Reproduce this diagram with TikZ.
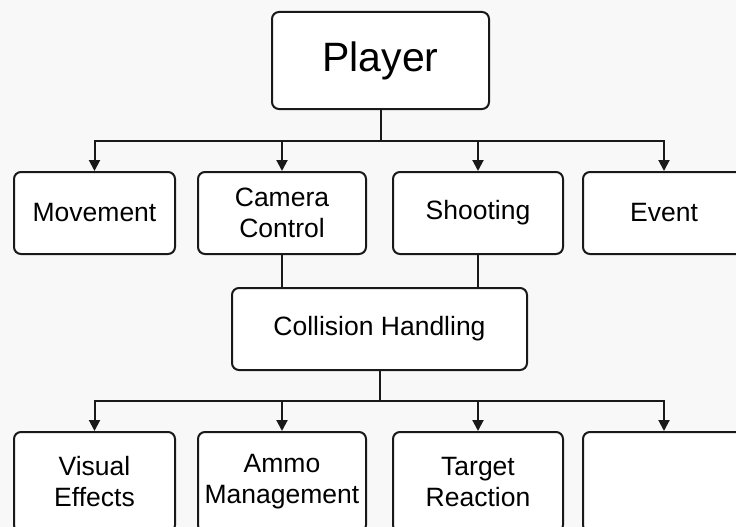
\documentclass[tikz,border=0pt]{standalone}
\usepackage{fontspec}
\setmainfont{Liberation Sans}
\usetikzlibrary{arrows.meta}

\definecolor{bgcol}{RGB}{248,248,248}
\definecolor{linecol}{RGB}{25,25,25}

\tikzset{
  box/.style={draw=linecol, line width=2pt, rounded corners=7pt, fill=white,
    align=center, inner sep=0pt, font=\fontsize{26.5}{31}\selectfont},
  toprow/.style={box, minimum height=82pt},
  botrow/.style={box, minimum height=100pt},
  link/.style={draw=linecol, line width=2pt},
  arr/.style={link, -{Triangle[length=11pt,width=11pt]}}
}

\begin{document}
\begin{tikzpicture}[x=1pt,y=-1pt]
  % 背景と切り取り
  \clip (0,0) rectangle (736,527);
  \fill[bgcol] (0,0) rectangle (736,527);

  % 最上段
  \node[box, minimum width=217pt, minimum height=97pt, font=\fontsize{41}{48}\selectfont]
    (player) at (380.5,60.5) {Player};

  % 2段目
  \node[toprow, minimum width=161pt] (move)  at (94.5,213) {Movement};
  \node[toprow, minimum width=168pt] (cam)   at (282,213)  {Camera\\Control};
  \node[toprow, minimum width=170pt] (shoot) at (478,213)  {Shooting};
  \node[toprow, minimum width=162pt] (event) at (664,213)  {Event};

  % 中段
  \node[toprow, minimum width=295pt] (coll) at (379.5,329) {Collision Handling};

  % 最下段
  \node[botrow, minimum width=161pt] (vfx)    at (94.5,482) {Visual\\Effects};
  \node[botrow, minimum width=168pt] (ammo)   at (282,482)  {Ammo\\Management};
  \node[botrow, minimum width=170pt] (target) at (478,482)  {Target\\Reaction};
  \node[botrow, minimum width=162pt] (blank)  at (664,482)  {};

  % 分岐点
  \coordinate (bus1) at (player.south |- 0,141);
  \coordinate (bus2) at (coll.south |- 0,401);

  % Player から2段目へ
  \draw[link] (player.south) -- (bus1);
  \foreach \n in {move,cam,shoot,event}
    \draw[arr] (bus1) -| (\n.north);

  % 2段目から Collision Handling へ
  \draw[link] (cam.south) -- (cam.south |- coll.north);
  \draw[link] (shoot.south) -- (shoot.south |- coll.north);

  % Collision Handling から最下段へ
  \draw[link] (coll.south) -- (bus2);
  \foreach \n in {vfx,ammo,target,blank}
    \draw[arr] (bus2) -| (\n.north);
\end{tikzpicture}
\end{document}
